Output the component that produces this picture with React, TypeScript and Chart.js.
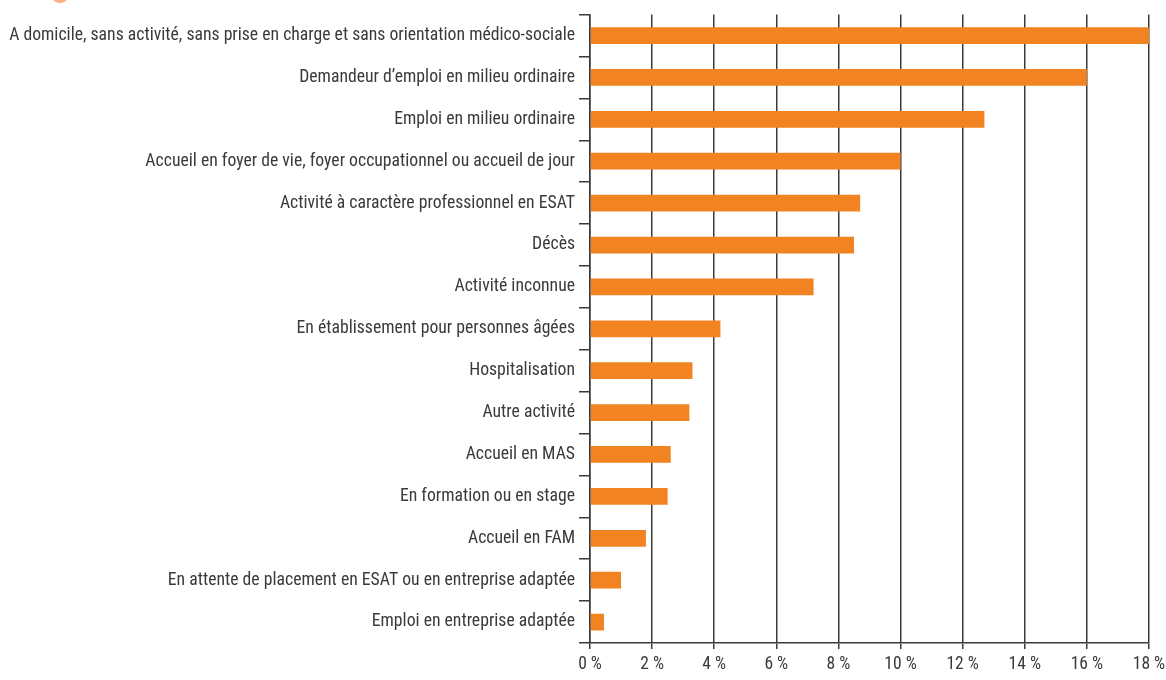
import React, { useEffect, useRef } from "react";
import { Chart, registerables } from "chart.js";

Chart.register(...registerables);

const categories: string[] = [
  "A domicile, sans activité, sans prise en charge et sans orientation médico-sociale",
  "Demandeur d’emploi en milieu ordinaire",
  "Emploi en milieu ordinaire",
  "Accueil en foyer de vie, foyer occupationnel ou accueil de jour",
  "Activité à caractère professionnel en ESAT",
  "Décès",
  "Activité inconnue",
  "En établissement pour personnes âgées",
  "Hospitalisation",
  "Autre activité",
  "Accueil en MAS",
  "En formation ou en stage",
  "Accueil en FAM",
  "En attente de placement en ESAT ou en entreprise adaptée",
  "Emploi en entreprise adaptée",
];

const values: number[] = [18.0, 16.0, 12.7, 10.0, 8.7, 8.5, 7.2, 4.2, 3.3, 3.2, 2.6, 2.5, 1.8, 1.0, 0.45];

const xTickValues: number[] = [0, 2, 4, 6, 8, 10, 12, 14, 16, 18];

const FONT = "'Liberation Sans Narrow', 'Roboto Condensed', 'DejaVu Sans Condensed', sans-serif";
const ORANGE = "#F28322";
const INK = "#3a3a3a";

const decoPlugin = {
  id: "deco",
  beforeDraw(chart: any) {
    const ctx = chart.ctx;
    ctx.save();
    ctx.fillStyle = "#F9B380";
    ctx.beginPath();
    ctx.ellipse(60, -17, 13, 20, 0, 0, Math.PI * 2);
    ctx.fill();
    ctx.restore();
  },
};

export default function App() {
  const ref = useRef<HTMLCanvasElement | null>(null);
  useEffect(() => {
    if (!ref.current) return;
    const chart = new Chart(ref.current, {
      type: "bar",
      data: {
        labels: categories,
        datasets: [
          {
            data: values,
            backgroundColor: ORANGE,
            borderWidth: 0,
            categoryPercentage: 1,
            barPercentage: 0.4,
          },
        ],
      },
      options: {
        indexAxis: "y",
        animation: false,
        responsive: false,
        layout: { padding: { top: 12, right: 0, left: 0, bottom: 0 } },
        plugins: { legend: { display: false }, tooltip: { enabled: false } },
        scales: {
          x: {
            min: 0,
            max: 18,
            afterBuildTicks: (scale: any) => {
              scale.ticks = xTickValues.map((v) => ({ value: v }));
            },
            afterFit: (scale: any) => {
              scale.height = 37;
              scale.paddingRight = 17;
              scale.paddingLeft = 0;
            },
            ticks: {
              callback: (v: any) => `${v} %`,
              color: INK,
              font: { family: FONT, size: 17.5 },
              padding: 5,
              maxRotation: 0,
            },
            grid: {
              color: INK,
              lineWidth: 1.5,
              tickLength: 6,
              tickColor: INK,
            },
            border: { color: INK, width: 1.5 },
          },
          y: {
            afterFit: (scale: any) => {
              scale.width = 590;
            },
            ticks: {
              color: INK,
              font: { family: FONT, size: 17.7 },
              padding: 4,
              autoSkip: false,
            },
            grid: {
              drawOnChartArea: false,
              offset: true,
              tickLength: 11,
              color: INK,
              lineWidth: 1.5,
            },
            border: { color: INK, width: 1.5 },
          },
        },
      },
      plugins: [decoPlugin],
    } as any);
    return () => chart.destroy();
  }, []);
  return (
    <div style={{ position: "fixed", left: 0, top: 0, width: 1166, height: 680, background: "#fff" }}>
      <canvas ref={ref} width={1166} height={680} />
    </div>
  );
}
